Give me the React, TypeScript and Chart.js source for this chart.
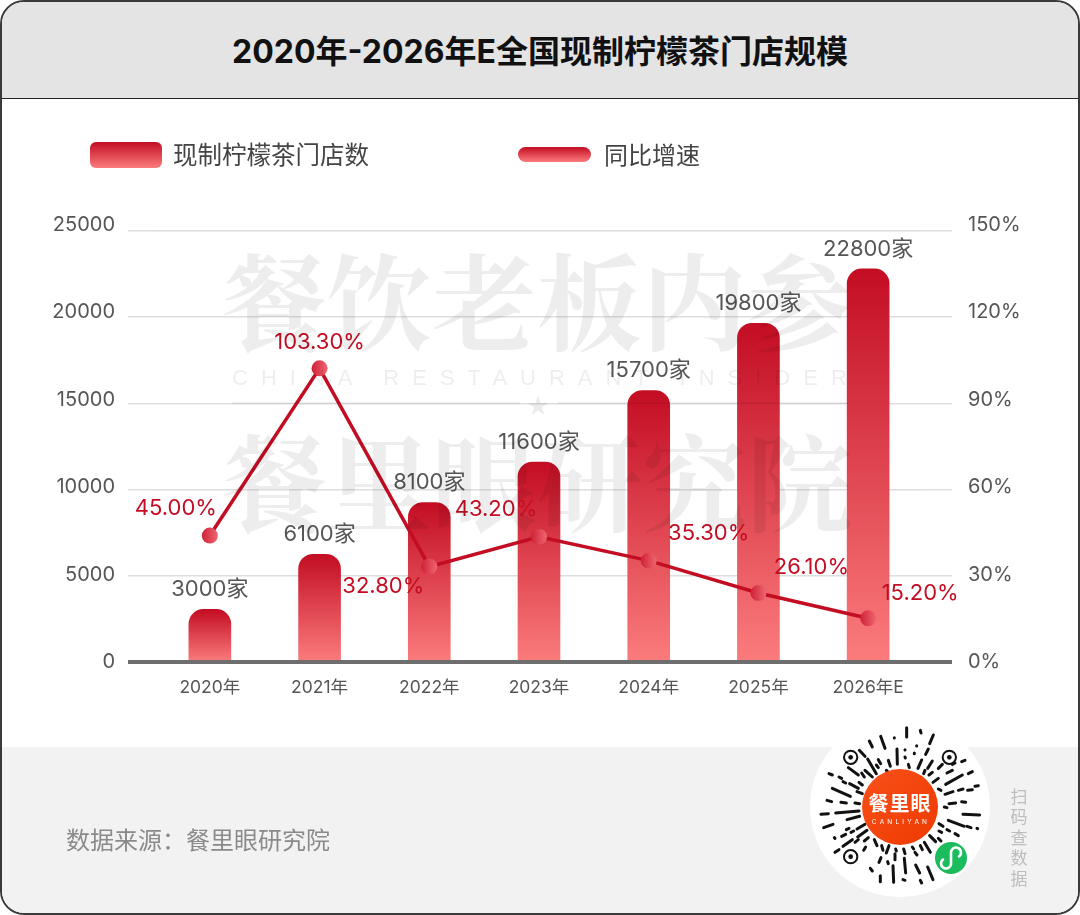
import React, { useEffect, useRef } from "react";
import { Chart, registerables } from "chart.js";

Chart.register(...registerables);

const categories = ["2020年", "2021年", "2022年", "2023年", "2024年", "2025年", "2026年E"];
// printed store counts and the bar heights as actually drawn in the picture
const storeCounts = [3000, 6100, 8100, 11600, 15700, 19800, 22800];
const barHeights = [3050, 6250, 9250, 11600, 15750, 19650, 22800];
// printed growth rates and the point heights as actually drawn in the picture
const growthRates = [45.0, 103.3, 32.8, 43.2, 35.3, 26.1, 15.2];
const pointHeights = [44.0, 102.2, 33.2, 43.6, 35.3, 24.0, 15.2];
const storeTicks = [0, 5000, 10000, 15000, 20000, 25000];
const rateTicks = [0, 30, 60, 90, 120, 150];
const storeLabel = "现制柠檬茶门店数";
const growthLabel = "同比增速";

const SANS = '"Inter","Noto Sans CJK SC",sans-serif';
const CJK = '"Noto Sans CJK SC",sans-serif';
const RED = "#c30d23";
const PINK = "#fb7c7c";
const GREY = "#565656";

// label anchors relative to each growth point (the source places them by hand)
const growthLabelShift = [
  [-34, -27], [0, -26], [-46, 20], [-43, -27], [60, -27], [53, -26], [52, -25],
];

const qrStrokes: number[][] = [
  [275,8,275,36],[316,16,318,24],[355,30,344,56],[197,34,210,70],[238,38,238,39],[163,48,172,66],
  [133,76,150,94],[246,72,247,118],[270,74,270,75],[305,62,305,63],[298,84,298,86],[340,72,332,88],
  [270,96,271,99],[280,118,283,128],[320,105,309,130],[352,108,338,130],[158,102,184,146],[190,104,197,116],
  [220,106,226,124],[100,128,130,150],[150,136,172,156],[140,144,148,156],[42,146,52,150],[72,156,80,160],
  [104,176,130,190],[84,170,92,174],[52,190,106,214],[132,172,142,180],[126,200,142,206],[36,226,50,230],
  [78,232,94,234],[120,234,134,236],[18,268,40,266],[62,264,132,258],[96,284,134,274],[26,308,54,298],
  [94,314,102,310],[126,312,150,298],[58,338,60,340],[80,334,92,328],[108,322,116,318],[128,336,156,316],
  [84,364,112,344],[60,382,72,374],[120,352,130,344],[148,348,160,338],[178,344,186,362],[146,376,152,366],
  [200,362,204,376],[214,384,222,362],[242,372,244,378],[266,372,270,386],[240,386,240,404],[292,366,296,372],
  [316,362,322,374],[300,382,306,390],[344,332,362,350],[328,352,346,382],[166,430,172,438],[198,398,192,412],
  [218,410,220,416],[234,422,236,472],[268,400,272,444],[302,420,314,444],[338,426,354,464],[196,452,196,470],
  [316,466,320,474],[264,464,270,466],[372,296,384,304],[400,286,448,304],[456,304,468,308],[486,310,488,311],
  [396,314,404,318],[372,318,380,322],[420,326,430,332],[370,340,378,348],[444,268,494,270],[402,236,422,234],
  [440,230,452,232],[388,246,396,248],[390,208,414,200],[430,196,444,192],[458,196,472,194],[370,192,378,196],
  [392,178,442,150],[460,146,472,140],[480,184,490,182],[354,172,370,160],[396,144,412,136],[342,150,352,142],
  [370,130,382,118],[412,118,420,114],[440,110,450,106],[326,146,330,136],[184,120,190,128],[214,136,222,144],
];

function gradientBar(chart: any, top: number, bottom: number) {
  const g = chart.ctx.createLinearGradient(0, top, 0, bottom);
  g.addColorStop(0, RED);
  g.addColorStop(1, PINK);
  return g;
}

const valueLabels = {
  id: "valueLabels",
  afterDatasetsDraw(chart: any) {
    const { ctx } = chart;
    ctx.save();
    ctx.textAlign = "center";
    ctx.textBaseline = "middle";
    ctx.font = `22px ${SANS}`;
    ctx.fillStyle = GREY;
    chart.getDatasetMeta(1).data.forEach((bar: any, i: number) => {
      ctx.fillText(`${storeCounts[i]}家`, bar.x, bar.y - 20);
    });
    ctx.fillStyle = RED;
    chart.getDatasetMeta(0).data.forEach((pt: any, i: number) => {
      const [dx, dy] = growthLabelShift[i];
      ctx.fillText(`${growthRates[i].toFixed(2)}%`, pt.x + dx, pt.y + dy);
    });
    ctx.restore();
  },
};

const hardWidth = (w: number) => (s: any) => {
  s.width = w;
};
const fixedTicks = (values: number[]) => (s: any) => {
  s.ticks = values.map((value) => ({ value }));
};
const gridColor = (c: any) => (c.tick && c.tick.value === 0 ? "#6e6e6e" : "#dedede");
const gridWidth = (c: any) => (c.tick && c.tick.value === 0 ? 4 : 1.5);

export default function App() {
  const ref = useRef<HTMLCanvasElement>(null);

  useEffect(() => {
    const chart = new Chart(ref.current!, {
      type: "bar",
      plugins: [valueLabels],
      data: {
        labels: categories,
        datasets: [
          {
            type: "line",
            label: growthLabel,
            data: pointHeights,
            yAxisID: "yLine",
            order: 0,
            borderColor: RED,
            borderWidth: 3.5,
            tension: 0,
            pointRadius: 8,
            pointHoverRadius: 8,
            pointBorderWidth: 0,
            pointBackgroundColor: (c: any) => {
              if (!c.chart.chartArea) return RED;
              const x = c.chart.scales.x.getPixelForValue(c.dataIndex);
              const g = c.chart.ctx.createLinearGradient(x - 8, 0, x + 8, 0);
              g.addColorStop(0, "#cf2138");
              g.addColorStop(1, "#ee6670");
              return g;
            },
          },
          {
            type: "bar",
            label: storeLabel,
            data: barHeights,
            yAxisID: "yBar",
            order: 1,
            barThickness: 42,
            borderRadius: { topLeft: 15, topRight: 15, bottomLeft: 0, bottomRight: 0 },
            backgroundColor: (c: any) => {
              const s = c.chart.scales.yBar;
              if (!c.chart.chartArea || !s) return RED;
              return gradientBar(c.chart, s.getPixelForValue(barHeights[c.dataIndex]), s.getPixelForValue(0));
            },
          },
        ],
      } as any,
      options: {
        responsive: false,
        animation: false,
        layout: { padding: { top: 225, left: 0, right: 0, bottom: 0 } },
        plugins: { legend: { display: false }, tooltip: { enabled: false } },
        scales: {
          x: {
            grid: { display: false, drawTicks: false },
            border: { display: true, color: "#6e6e6e", width: 4, z: 1 },
            ticks: { color: GREY, font: { family: SANS, size: 17.5 }, padding: 15, maxRotation: 0 },
            afterFit: (s: any) => {
              s.height = 253;
            },
          },
          // outer labelled axes, 87.4px per step as printed
          y: {
            position: "left",
            weight: 10,
            min: 0,
            max: 25000,
            grid: { display: false, drawTicks: false },
            border: { display: false },
            ticks: {
              stepSize: 5000,
              color: GREY,
              font: { family: SANS, size: 20 },
              padding: 13,
              callback: (v: any) => String(v),
            },
            afterBuildTicks: fixedTicks(storeTicks),
            afterFit: hardWidth(128),
          },
          y1: {
            position: "right",
            weight: 10,
            min: 0,
            max: 150,
            grid: { display: false, drawTicks: false },
            border: { display: false },
            ticks: {
              stepSize: 30,
              color: GREY,
              font: { family: SANS, size: 20 },
              padding: 16,
              callback: (v: any) => `${v}%`,
            },
            afterBuildTicks: fixedTicks(rateTicks),
            afterFit: hardWidth(128),
          },
          // inner axes carrying marks and grid lines, 86.2px per step as drawn
          yBar: {
            position: "left",
            weight: 0,
            min: 0,
            max: 25348,
            border: { display: false },
            ticks: { display: false },
            grid: { tickLength: 27, color: gridColor, lineWidth: gridWidth },
            afterBuildTicks: fixedTicks(storeTicks),
            afterFit: hardWidth(27),
          },
          yLine: {
            position: "right",
            weight: 0,
            min: 0,
            max: 152.09,
            border: { display: false },
            ticks: { display: false },
            grid: { drawOnChartArea: false, tickLength: 29, color: gridColor, lineWidth: gridWidth },
            afterBuildTicks: fixedTicks(rateTicks),
            afterFit: hardWidth(29),
          },
        },
      } as any,
    });
    return () => chart.destroy();
  }, []);

  const abs = (s: React.CSSProperties): React.CSSProperties => ({ position: "absolute", ...s });
  const watermark: React.CSSProperties = {
    fontFamily: '"Noto Serif CJK SC","Noto Sans CJK SC",serif',
    fontWeight: 700,
    fontSize: 105,
    lineHeight: "110px",
    color: "rgba(0,0,0,0.07)",
    whiteSpace: "nowrap",
    left: 222,
    width: 630,
  };

  return (
    <div style={abs({ left: 0, top: 0, width: 1080, height: 915, background: "#fff", overflow: "hidden" })}>
      <div
        style={abs({
          left: 0, top: 0, width: 1080, height: 915, boxSizing: "border-box",
          border: "2px solid #3a3a3a", borderRadius: 24, overflow: "hidden", background: "#fff",
        })}
      >
        <div
          style={abs({
            left: 0, top: 0, right: 0, height: 96, background: "#e4e4e4", borderBottom: "1.5px solid #222",
            boxSizing: "content-box", textAlign: "center", fontFamily: SANS, fontWeight: 700, fontSize: 32,
            lineHeight: "100px", color: "#111", whiteSpace: "nowrap",
          })}
        >
          2020年-2026年E全国现制柠檬茶门店规模
        </div>
        <div style={abs({ left: 0, right: 0, top: 745, bottom: 0, background: "#f2f2f2" })} />
      </div>

      <canvas ref={ref} width={1080} height={915} style={abs({ left: 0, top: 0, width: 1080, height: 915 })} />

      <div style={abs({ ...watermark, top: 242 })}>餐饮老板内参</div>
      <div
        style={abs({
          left: 232, top: 365, width: 640, fontFamily: '"Liberation Sans",sans-serif', fontSize: 22,
          lineHeight: "26px", letterSpacing: 13, color: "rgba(0,0,0,0.07)", whiteSpace: "nowrap",
        })}
      >
        CHINA RESTAURANT INSIDER
      </div>
      <div style={abs({ left: 232, top: 402, width: 288, height: 2, background: "rgba(0,0,0,0.06)" })} />
      <div style={abs({ left: 558, top: 402, width: 290, height: 2, background: "rgba(0,0,0,0.06)" })} />
      <div style={abs({ left: 526, top: 390, width: 24, textAlign: "center", fontFamily: CJK, fontSize: 22, lineHeight: "26px", color: "rgba(0,0,0,0.08)" })}>★</div>
      <div style={abs({ ...watermark, top: 423 })}>餐里眼研究院</div>

      <div style={abs({ left: 90, top: 142, width: 72, height: 26, borderRadius: 6, background: `linear-gradient(${RED},${PINK})` })} />
      <div style={abs({ left: 173, top: 137, fontFamily: CJK, fontSize: 24.5, lineHeight: "34px", color: "#444", whiteSpace: "nowrap" })}>{storeLabel}</div>
      <div style={abs({ left: 518, top: 147, width: 73, height: 15, borderRadius: 8, background: `linear-gradient(${RED},${PINK})` })} />
      <div style={abs({ left: 604, top: 137, fontFamily: CJK, fontSize: 24, lineHeight: "34px", color: "#444", whiteSpace: "nowrap" })}>{growthLabel}</div>

      <div style={abs({ left: 66, top: 822, fontFamily: CJK, fontSize: 24, lineHeight: "34px", color: "#8a8a8a", whiteSpace: "nowrap" })}>
        数据来源：餐里眼研究院
      </div>

      <svg width={190} height={190} viewBox="0 0 190 190" style={abs({ left: 805, top: 712 })}>
        <circle cx={95} cy={95} r={90} fill="#fff" />
        <g transform="translate(10,13) scale(0.3333)">
          {qrStrokes.map(([a, b, c, d], i) => (
            <line key={i} x1={a} y1={b} x2={c} y2={d} stroke="#111" strokeWidth={9} strokeLinecap="round" />
          ))}
          {[[107, 97], [403, 97], [107, 395]].map(([x, y], i) => (
            <g key={i}>
              <circle cx={x} cy={y} r={20} fill="none" stroke="#111" strokeWidth={6} />
              <circle cx={x} cy={y} r={7} fill="#111" />
            </g>
          ))}
        </g>
        <defs>
          <linearGradient id="qrOrange" x1="0" y1="0" x2="1" y2="1">
            <stop offset="0" stopColor="#f9501a" />
            <stop offset="1" stopColor="#ee3a00" />
          </linearGradient>
        </defs>
        <circle cx={95} cy={95} r={38} fill="url(#qrOrange)" />
        <text x={95} y={99} textAnchor="middle" fontFamily={CJK} fontWeight={700} fontSize={20} letterSpacing={1} fill="#fff">餐里眼</text>
        <text x={96} y={112} textAnchor="middle" fontFamily={SANS} fontSize={6.5} letterSpacing={3.2} fill="#fff">CANLIYAN</text>
        <circle cx={146} cy={146} r={16} fill="#1bbc5c" />
        <path d="M138 147.5 A5 5 0 1 0 146 151 V141 A5 5 0 1 1 154 144.5" fill="none" stroke="#fff" strokeWidth={2.6} strokeLinecap="round" />
      </svg>

      <div style={abs({ left: 1009, top: 786, width: 20, fontFamily: CJK, fontSize: 17, lineHeight: "20.4px", color: "#bdbdbd", textAlign: "center" })}>
        扫码查数据
      </div>
    </div>
  );
}
